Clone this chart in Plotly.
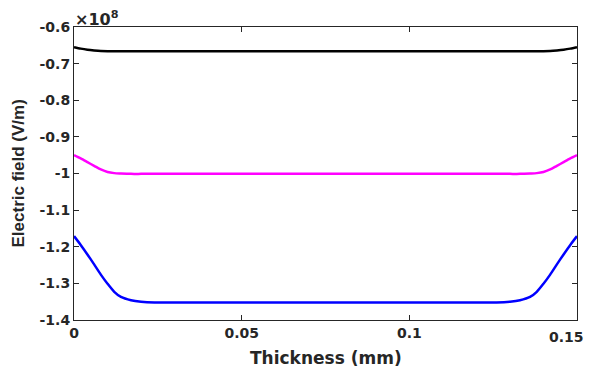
import plotly.graph_objects as go

# Thickness (mm)
thickness = [0, 0.002, 0.004, 0.006, 0.008, 0.010, 0.012, 0.014, 0.017, 0.020, 0.024, 0.030,
             0.075, 0.120, 0.126, 0.130, 0.133, 0.136, 0.138, 0.140, 0.142, 0.144, 0.146, 0.148, 0.150]

# Electric field (x 1e8 V/m)
field_black = [-0.655, -0.659, -0.662, -0.664, -0.6655, -0.666, -0.666, -0.666, -0.666, -0.666, -0.666, -0.666,
               -0.666, -0.666, -0.666, -0.666, -0.666, -0.666, -0.666, -0.666, -0.6655, -0.664, -0.662, -0.659, -0.655]
field_magenta = [-0.950, -0.959, -0.969, -0.979, -0.989, -0.996, -0.999, -1.000, -1.001, -1.001, -1.001, -1.001,
                 -1.001, -1.001, -1.001, -1.001, -1.001, -1.000, -0.999, -0.996, -0.989, -0.979, -0.969, -0.959, -0.950]
field_blue = [-1.171, -1.195, -1.221, -1.248, -1.276, -1.301, -1.323, -1.337, -1.346, -1.350, -1.352, -1.352,
              -1.352, -1.352, -1.352, -1.350, -1.346, -1.337, -1.323, -1.301, -1.276, -1.248, -1.221, -1.195, -1.171]

x_ticks = [0, 0.05, 0.1, 0.15]
x_ticktext = ["0", "0.05", "0.1", "0.15"]
y_ticks = [-0.6, -0.7, -0.8, -0.9, -1.0, -1.1, -1.2, -1.3, -1.4]
y_ticktext = ["-0.6", "-0.7", "-0.8", "-0.9", "-1", "-1.1", "-1.2", "-1.3", "-1.4"]

series = [(field_black, "#000000"), (field_magenta, "#ff00ff"), (field_blue, "#0000ff")]

fig = go.Figure()
for ys, col in series:
    fig.add_trace(go.Scatter(x=thickness, y=ys, mode="lines",
                             line=dict(color=col, width=2.5, shape="spline", smoothing=0.7),
                             showlegend=False, hoverinfo="skip", cliponaxis=False))

axcol = "#262626"
tickfont = dict(family="DejaVu Sans", size=14, color=axcol, weight="bold")

# the last x tick label sits at the window's right edge, so it is drawn
# right-aligned to stay fully visible; the axis keeps its tick mark
axis_ticktext = x_ticktext[:-1] + [""]

# page body has an 8px default margin, so the figure is offset to compensate
fig.update_layout(
    width=586, height=360,
    margin=dict(l=66, r=17, t=19, b=48, autoexpand=False),
    paper_bgcolor="white", plot_bgcolor="white",
    xaxis=dict(range=[0, 0.15 * 1.000001], tickvals=x_ticks, ticktext=axis_ticktext,
               ticks="inside", ticklen=5, tickcolor=axcol, tickwidth=1,
               showline=True, linecolor=axcol, linewidth=1, mirror="ticks",
               showgrid=False, zeroline=False, tickfont=tickfont,
               ticklabeloverflow="allow"),
    yaxis=dict(range=[-1.4, -0.6], tickvals=y_ticks, ticktext=y_ticktext,
               ticks="inside", ticklen=5, tickcolor=axcol, tickwidth=1,
               showline=True, linecolor=axcol, linewidth=1, mirror="ticks",
               showgrid=False, zeroline=False, tickfont=tickfont,
               ticklabeloverflow="allow"),
    annotations=[
        dict(text=x_ticktext[-1], xref="x", yref="paper", x=x_ticks[-1], y=0,
             xanchor="right", yanchor="middle", xshift=9, yshift=-17, showarrow=False,
             font=tickfont),
        dict(text="Thickness (mm)", xref="paper", yref="paper", x=0.5, y=0,
             xanchor="center", yanchor="middle", yshift=-38, showarrow=False,
             font=dict(family="DejaVu Sans", size=17, color=axcol, weight="bold")),
        dict(text="Electric field (V/m)", xref="paper", yref="paper", x=0, y=0.5,
             xanchor="center", yanchor="middle", xshift=-56, textangle=-90, showarrow=False,
             font=dict(family="Liberation Sans", size=17, color=axcol, weight="bold")),
        dict(text="×10<sup>8</sup>", xref="paper", yref="paper", x=0, y=1,
             xanchor="left", yanchor="bottom", xshift=-1, yshift=-4, showarrow=False,
             font=dict(family="DejaVu Sans", size=16, color=axcol, weight="bold")),
    ],
)

fig.write_html("out.html")
